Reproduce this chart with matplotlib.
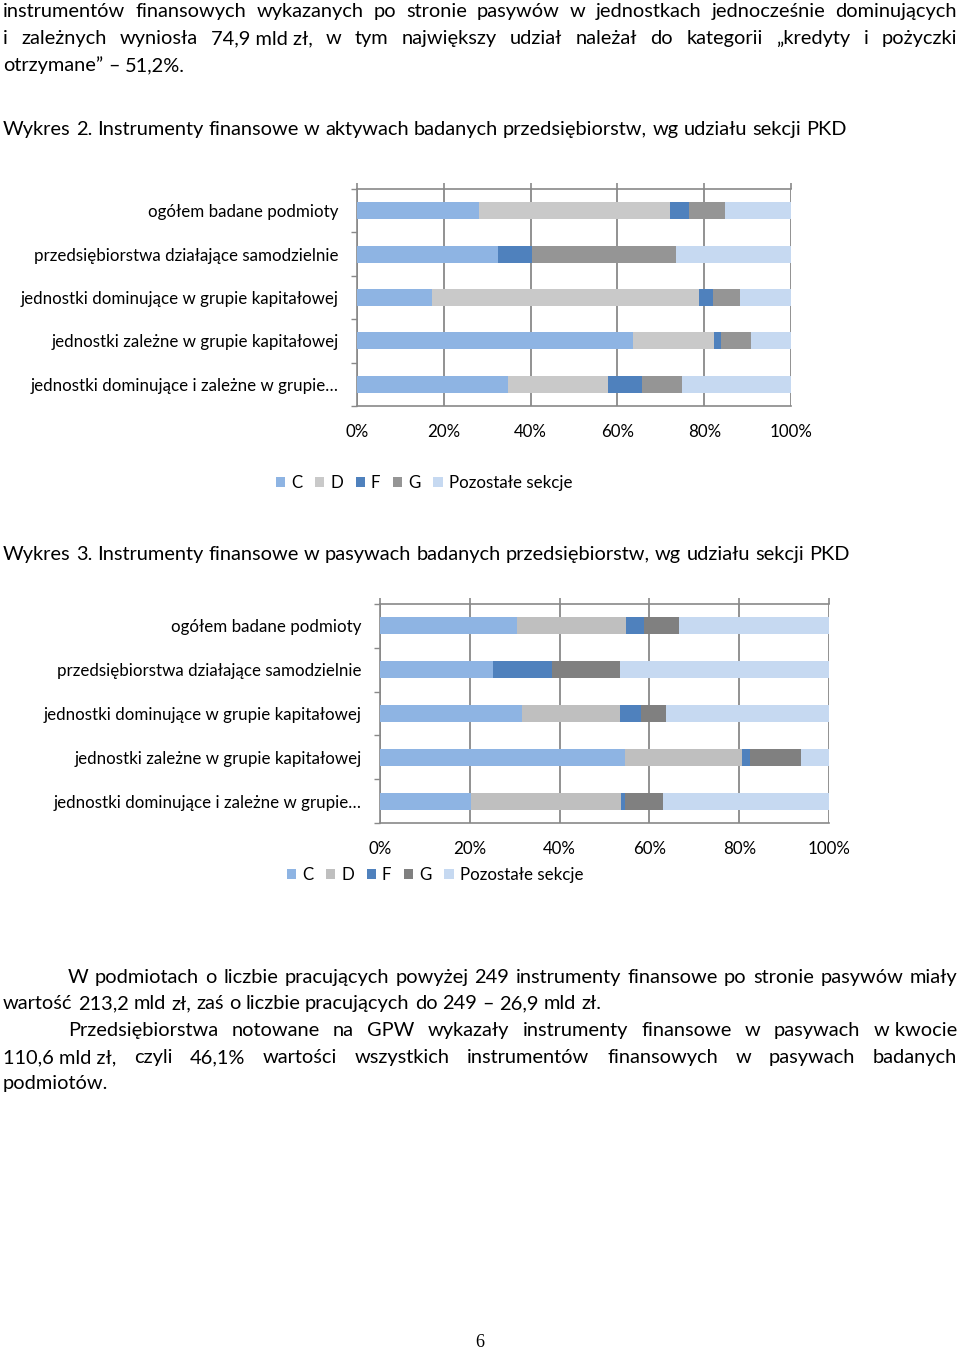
import numpy as np
import matplotlib
matplotlib.use("Agg")
from matplotlib import pyplot as plt

plt.rcParams['font.family'] = ['Lato', 'DejaVu Sans']

# categories (top to bottom)
cats = ["ogółem badane podmioty",
        "przedsiębiorstwa działające samodzielnie",
        "jednostki dominujące w grupie kapitałowej",
        "jednostki zależne w grupie kapitałowej",
        "jednostki dominujące i zależne w grupie…"]
sections = ["C", "D", "F", "G", "Pozostałe sekcje"]

# Wykres 2 - aktywa (%)
akt_C = [28.2, 32.5, 17.2, 63.5, 34.9]
akt_D = [43.9, 0.0, 61.5, 18.8, 22.9]
akt_F = [4.3, 7.8, 3.3, 1.5, 7.9]
akt_G = [8.4, 33.1, 6.3, 6.9, 9.2]
akt_R = [15.2, 26.6, 11.7, 9.3, 25.1]

# Wykres 3 - pasywa (%)
pas_C = [30.5, 25.2, 31.6, 54.6, 20.2]
pas_D = [24.3, 0.0, 21.8, 26.1, 33.4]
pas_F = [4.0, 13.1, 4.8, 1.8, 1.0]
pas_G = [7.9, 15.1, 5.4, 11.3, 8.5]
pas_R = [33.3, 46.6, 36.4, 6.2, 36.9]

ticks = [0, 20, 40, 60, 80, 100]
tick_labels = ["0%", "20%", "40%", "60%", "80%", "100%"]

W, H = 960, 1349
fig = plt.figure(figsize=(W / 100, H / 100), dpi=100)
renderer = fig.canvas.get_renderer()

BODY = 14.4
SMALL = 12.2


def fx(px):
    return px / W


def fy(py):
    return 1 - py / H


def put_line(text, y, x0, x1=None, size=BODY, justify=False, **kw):
    words = text.split(" ")
    objs = [fig.text(0, fy(y), w, fontsize=size, va='baseline', ha='left', **kw) for w in words]
    widths = [o.get_window_extent(renderer).width for o in objs]
    sp = fig.text(0, 0, "a a", fontsize=size)
    sp2 = fig.text(0, 0, "aa", fontsize=size)
    space = sp.get_window_extent(renderer).width - sp2.get_window_extent(renderer).width
    sp.remove()
    sp2.remove()
    if justify and len(words) > 1:
        gap = (x1 - x0 - sum(widths)) / (len(words) - 1)
    else:
        gap = space
    x = x0
    for o, w in zip(objs, widths):
        o.set_x(fx(x))
        x += w + gap


NB = "\u00a0"
put_line("instrumentów finansowych wykazanych po stronie pasywów w jednostkach jednocześnie dominujących",
         17, 3, 957, justify=True)
put_line("i zależnych wyniosła 74,9" + NB + "mld" + NB + "zł, w tym największy udział należał do kategorii „kredyty i pożyczki",
         44, 3, 957, justify=True)
put_line("otrzymane” – 51,2%.", 71, 3)
put_line("Wykres 2. Instrumenty finansowe w aktywach badanych przedsiębiorstw, wg udziału sekcji PKD", 135, 3)
put_line("Wykres 3. Instrumenty finansowe w pasywach badanych przedsiębiorstw, wg udziału sekcji PKD", 560, 3)

put_line("W podmiotach o liczbie pracujących powyżej 249 instrumenty finansowe po stronie pasywów miały",
         983, 68, 957, justify=True)
put_line("wartość 213,2 mld zł, zaś o liczbie pracujących do 249 – 26,9 mld zł.", 1009, 3)
put_line("Przedsiębiorstwa notowane na GPW wykazały instrumenty finansowe w pasywach w" + NB + "kwocie",
         1036, 68, 957, justify=True)
put_line("110,6" + NB + "mld" + NB + "zł, czyli 46,1% wartości wszystkich instrumentów finansowych w pasywach badanych",
         1063, 3, 957, justify=True)
put_line("podmiotów.", 1089, 3)

fig.text(fx(480), fy(1347), "6", fontsize=13, ha='center', va='baseline', family='Liberation Serif')


def draw_chart(left, right, top, bottom, series, colors, leg_x, leg_y):
    ax = fig.add_axes([fx(left), fy(bottom), fx(right - left), (bottom - top) / H])
    y = np.arange(len(cats))
    base = np.zeros(len(cats))
    handles = []
    for vals, col, name in zip(series, colors, sections):
        b = ax.barh(y, vals, left=base, height=0.39, color=col, label=name, zorder=3)
        handles.append(b)
        base += np.array(vals)
    ax.set_xlim(0, 100)
    ax.set_ylim(len(cats) - 0.5, -0.5)
    ax.set_xticks(ticks)
    ax.set_xticklabels(tick_labels, fontsize=SMALL)
    ax.set_yticks(y)
    ax.set_yticklabels(cats, fontsize=SMALL)
    ax.set_yticks(np.arange(len(cats) + 1) - 0.5, minor=True)
    ax.tick_params(axis='y', which='major', length=0, pad=13)
    ax.tick_params(axis='y', which='minor', length=4, color='#898989', width=1)
    ax.tick_params(axis='x', top=True, bottom=False, labeltop=False, labelbottom=True,
                   length=4.5, color='#898989', width=1.2, pad=8.5)
    ax.grid(axis='x', color='#898989', lw=1.3, zorder=1)
    for s in ax.spines.values():
        s.set_color('#898989')
        s.set_linewidth(1.2)
    ax.spines['right'].set_visible(False)
    ax.legend(handles=handles, ncol=5, loc='center', bbox_to_anchor=(fx(leg_x), fy(leg_y)),
              bbox_transform=fig.transFigure, frameon=False, fontsize=SMALL,
              handlelength=0.55, handleheight=0.55, handletextpad=0.35, columnspacing=0.75)
    return ax


draw_chart(357, 791, 189, 406, [akt_C, akt_D, akt_F, akt_G, akt_R],
           ['#8EB4E3', '#C9C9C9', '#4F81BD', '#959595', '#C6D9F1'], 424, 483)
draw_chart(380, 829, 604, 823, [pas_C, pas_D, pas_F, pas_G, pas_R],
           ['#8EB4E3', '#BFBFBF', '#4F81BD', '#808080', '#C6D9F1'], 435, 875)

fig.savefig("out.png", dpi=100)
